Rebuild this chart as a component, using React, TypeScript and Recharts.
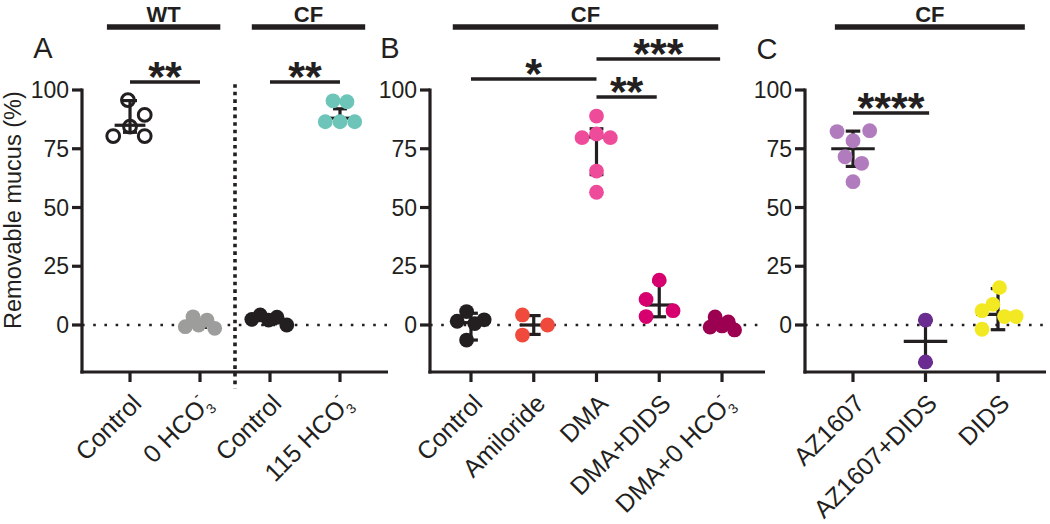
import React from 'react';
import { ScatterChart, Scatter, XAxis, YAxis, ReferenceLine, ReferenceDot } from 'recharts';

const FONT = '"Liberation Sans", Arial, Helvetica, sans-serif';
const INK = '#231f20';

// Panel A: WT vs CF, bicarbonate
const aLabels = ['Control', '0 HCO3-', 'Control', '115 HCO3-'];
const aValues = [
  [95.7, 89.4, 84.4, 80.4, 80.4],
  [3.5, 2.1, -0.7, 0, -1.4],
  [4.3, 3.3, 2.4, 2.1, 0],
  [95.4, 95, 86.5, 86.5, 86.5],
];
const aJitter = [
  [-0.03, 0.21, 0, -0.24, 0.21],
  [-0.1, 0.1, -0.21, -0.02, 0.21],
  [-0.14, 0.1, -0.26, -0.02, 0.24],
  [-0.1, 0.1, -0.21, 0, 0.21],
];
const aMid = [85, 0.5, 2, 88];
const aLow = [82, -1, 0.5, 87];
const aHigh = [95.5, 2, 3.5, 92];
const aSig = [
  { from: 0, to: 1, level: 103.4, text: '**' },
  { from: 2, to: 3, level: 103.4, text: '**' },
];
const aGroups = [
  { from: -0.33, to: 1.29, text: 'WT' },
  { from: 1.74, to: 3.36, text: 'CF' },
];

// Panel B: CF, DMA and friends
const bLabels = ['Control', 'Amiloride', 'DMA', 'DMA+DIDS', 'DMA+0 HCO3-'];
const bValues = [
  [5.7, 1.6, 0.6, 2.2, -6.4],
  [4.3, 0, -4.3],
  [88.9, 79.7, 81.3, 79.7, 65.5, 56.5],
  [19.1, 10.9, 6.1, 3.6],
  [3.4, 1.3, -0.4, -0.9, -2.1],
];
const bJitter = [
  [-0.07, -0.22, 0.06, 0.21, -0.07],
  [-0.18, 0.22, -0.18],
  [0, -0.23, 0, 0.22, 0, 0],
  [0, -0.21, 0.22, -0.21],
  [-0.11, 0.1, 0, -0.19, 0.2],
];
const bMid = [1, 0, 80, 8.5, 0.5];
const bLow = [-6.4, -4, 64, 3.5, -1.5];
const bHigh = [5, 4, 83.5, 18.5, 2.5];
const bSig = [
  { from: 2, to: 3.97, level: 113.2, text: '***' },
  { from: 0, to: 2, level: 104.7, text: '*' },
  { from: 2, to: 2.96, level: 97, text: '**' },
];
const bGroups = [{ from: -0.29, to: 3.94, text: 'CF' }];

// Panel C: CF, AZ1607
const cLabels = ['AZ1607', 'AZ1607+DIDS', 'DIDS'];
const cValues = [
  [82.3, 82.7, 78.4, 71.6, 68.8, 61],
  [2.1, -15.7],
  [15.9, 8.8, 6.1, 3.6, 3.6, -1.8],
];
const cJitter = [
  [-0.22, 0.23, 0, -0.11, 0.12, 0],
  [0, 0],
  [0.02, -0.07, -0.22, 0.09, 0.25, -0.22],
];
const cMid = [75, -7, 4.5];
const cLow = [67.5, -16, -2];
const cHigh = [82.5, 2, 15.5];
const cSig = [{ from: 0, to: 1.05, level: 90.2, text: '****' }];
const cGroups = [{ from: -0.25, to: 2.37, text: 'CF' }];

const yTicks = [0, 25, 50, 75, 100];

// 그룹 색상
const aColors = [INK, '#9d9d9c', INK, '#6cc5b8'];
const bColors = [INK, '#ef4a3c', '#ee4c9b', '#d6006f', '#9c0050'];
const cColors = ['#b07cbd', '#6a2c91', '#f2e923'];

const CategoryTick = ({ x, y, payload, labels }: any) => {
  const label: string | undefined = labels[payload.value];
  if (label === undefined) return null;
  const hco = label.endsWith('HCO3-');
  const main = hco ? label.slice(0, -2) : label;
  return (
    <g transform={`translate(${x + 13},${y + 21})`}>
      <text textAnchor="end" transform="rotate(-45)" fontSize={25} fill={INK} fontFamily={FONT}>
        {main}
        {hco && (
          <tspan fontSize={14} dy={6}>
            3
          </tspan>
        )}
        {hco && (
          <tspan fontSize={15} dx={-8} dy={-20}>
            -
          </tspan>
        )}
      </text>
    </g>
  );
};

const YTitle = (p: any) => {
  const vb = p.viewBox;
  const cx = vb.x + 21;
  const cy = vb.y + vb.height * 0.426;
  return (
    <text
      x={cx}
      y={cy}
      transform={`rotate(-90, ${cx}, ${cy})`}
      textAnchor="middle"
      fontSize={23.5}
      fill={INK}
      fontFamily={FONT}
    >
      Removable mucus (%)
    </text>
  );
};

interface PanelProps {
  left: number;
  axisWidth: number;
  plotWidth: number;
  xDomain: [number, number];
  labels: string[];
  values: number[][];
  jitter: number[][];
  mid: number[];
  low: number[];
  high: number[];
  colors: string[];
  sig: { from: number; to: number; level: number; text: string }[];
  groups: { from: number; to: number; text: string }[];
  letter: string;
  letterAt: [number, number];
  capHalf: number;
  midHalf: number;
  openFirst?: boolean;
  yTitle?: boolean;
  separatorAt?: number;
}

const Panel: React.FC<PanelProps> = (p) => {
  const width = p.axisWidth + p.plotWidth;
  const bar = { stroke: INK, strokeWidth: 3.2, ifOverflow: 'visible' as const };
  return (
    <div style={{ position: 'absolute', left: p.left, top: 0 }}>
      <ScatterChart width={width} height={524} margin={{ top: 90, right: 0, bottom: 2, left: 0 }}>
        <XAxis
          type="number"
          dataKey="x"
          domain={p.xDomain}
          allowDataOverflow
          ticks={p.labels.map((_, i) => i)}
          interval={0}
          height={150}
          tickSize={10}
          tickMargin={2}
          axisLine={{ stroke: INK, strokeWidth: 3.2, strokeLinecap: 'square' }}
          tickLine={{ stroke: INK, strokeWidth: 3.2 }}
          tick={(t: any) => <CategoryTick {...t} labels={p.labels} />}
        />
        <YAxis
          type="number"
          dataKey="y"
          domain={[-20, 100]}
          allowDataOverflow
          ticks={yTicks}
          interval={0}
          width={p.axisWidth}
          tickSize={10}
          tickMargin={3}
          axisLine={{ stroke: INK, strokeWidth: 3.2, strokeLinecap: 'square' }}
          tickLine={{ stroke: INK, strokeWidth: 3.2 }}
          tick={{ fontSize: 23, fill: INK, fontFamily: FONT }}
          label={p.yTitle ? { value: 'Removable mucus (%)', content: YTitle } : undefined}
        />
        <ReferenceLine y={0} stroke={INK} strokeWidth={2.6} strokeDasharray="2.6 8.6" />
        {p.separatorAt !== undefined && (
          <ReferenceLine
            segment={[
              { x: p.separatorAt, y: 102.5 },
              { x: p.separatorAt, y: -27 },
            ]}
            stroke={INK}
            strokeWidth={3.6}
            strokeDasharray="3.6 4"
            ifOverflow="visible"
          />
        )}
        {p.values.map((vals, g) => (
          <Scatter
            key={`s-${g}`}
            data={vals.map((v, i) => ({ x: g + p.jitter[g][i], y: v }))}
            isAnimationActive={false}
            shape={(s: any) =>
              p.openFirst && g === 0 ? (
                <circle cx={s.cx} cy={s.cy} r={6.4} fill="none" stroke={INK} strokeWidth={3} />
              ) : (
                <circle cx={s.cx} cy={s.cy} r={7.4} fill={p.colors[g]} />
              )
            }
          />
        ))}
        {p.mid.map((m, g) => (
          <React.Fragment key={`e-${g}`}>
            <ReferenceLine segment={[{ x: g, y: p.low[g] }, { x: g, y: p.high[g] }]} {...bar} />
            <ReferenceLine segment={[{ x: g - p.capHalf, y: p.high[g] }, { x: g + p.capHalf, y: p.high[g] }]} {...bar} />
            <ReferenceLine segment={[{ x: g - p.capHalf, y: p.low[g] }, { x: g + p.capHalf, y: p.low[g] }]} {...bar} />
            <ReferenceLine segment={[{ x: g - p.midHalf, y: m }, { x: g + p.midHalf, y: m }]} {...bar} />
          </React.Fragment>
        ))}
        {p.sig.map((s, i) => (
          <ReferenceLine
            key={`sig-${i}`}
            segment={[
              { x: s.from, y: s.level },
              { x: s.to, y: s.level },
            ]}
            stroke={INK}
            strokeWidth={3.5}
            ifOverflow="visible"
            label={{
              value: s.text,
              position: 'top',
              offset: -9,
              fontSize: 43,
              fontWeight: 'bold',
              fill: INK,
              fontFamily: FONT,
            }}
          />
        ))}
        {p.groups.map((gr, i) => (
          <ReferenceLine
            key={`grp-${i}`}
            segment={[
              { x: gr.from, y: 126.8 },
              { x: gr.to, y: 126.8 },
            ]}
            stroke={INK}
            strokeWidth={5.6}
            ifOverflow="visible"
            label={{
              value: gr.text,
              position: 'top',
              offset: 5,
              fontSize: 22,
              fontWeight: 'bold',
              fill: INK,
              fontFamily: FONT,
            }}
          />
        ))}
        <ReferenceDot
          x={p.letterAt[0]}
          y={p.letterAt[1]}
          r={0}
          stroke="none"
          fill="none"
          ifOverflow="visible"
          label={{ value: p.letter, position: 'center', fontSize: 29, fill: INK, fontFamily: FONT }}
        />
      </ScatterChart>
    </div>
  );
};

export default function App() {
  return (
    <div style={{ position: 'absolute', left: 0, top: 0, width: 1050, height: 524, background: '#fff', fontFamily: FONT }}>
      <Panel
        left={0}
        axisWidth={82}
        plotWidth={306}
        xDomain={[-0.686, 3.686]}
        labels={aLabels}
        values={aValues}
        jitter={aJitter}
        mid={aMid}
        low={aLow}
        high={aHigh}
        colors={aColors}
        sig={aSig}
        groups={aGroups}
        letter="A"
        letterAt={[-1.243, 117.9]}
        capHalf={0.1}
        midHalf={0.22}
        openFirst
        yTitle
        separatorAt={1.5}
      />
      <Panel
        left={360}
        axisWidth={70}
        plotWidth={335}
        xDomain={[-0.653, 4.685]}
        labels={bLabels}
        values={bValues}
        jitter={bJitter}
        mid={bMid}
        low={bLow}
        high={bHigh}
        colors={bColors}
        sig={bSig}
        groups={bGroups}
        letter="B"
        letterAt={[-1.29, 117.9]}
        capHalf={0.11}
        midHalf={0.22}
      />
      <Panel
        left={735}
        axisWidth={70}
        plotWidth={241}
        xDomain={[-0.662, 2.662]}
        labels={cLabels}
        values={cValues}
        jitter={cJitter}
        mid={cMid}
        low={cLow}
        high={cHigh}
        colors={cColors}
        sig={cSig}
        groups={cGroups}
        letter="C"
        letterAt={[-1.186, 117.4]}
        capHalf={0.1}
        midHalf={0.3}
      />
    </div>
  );
}
